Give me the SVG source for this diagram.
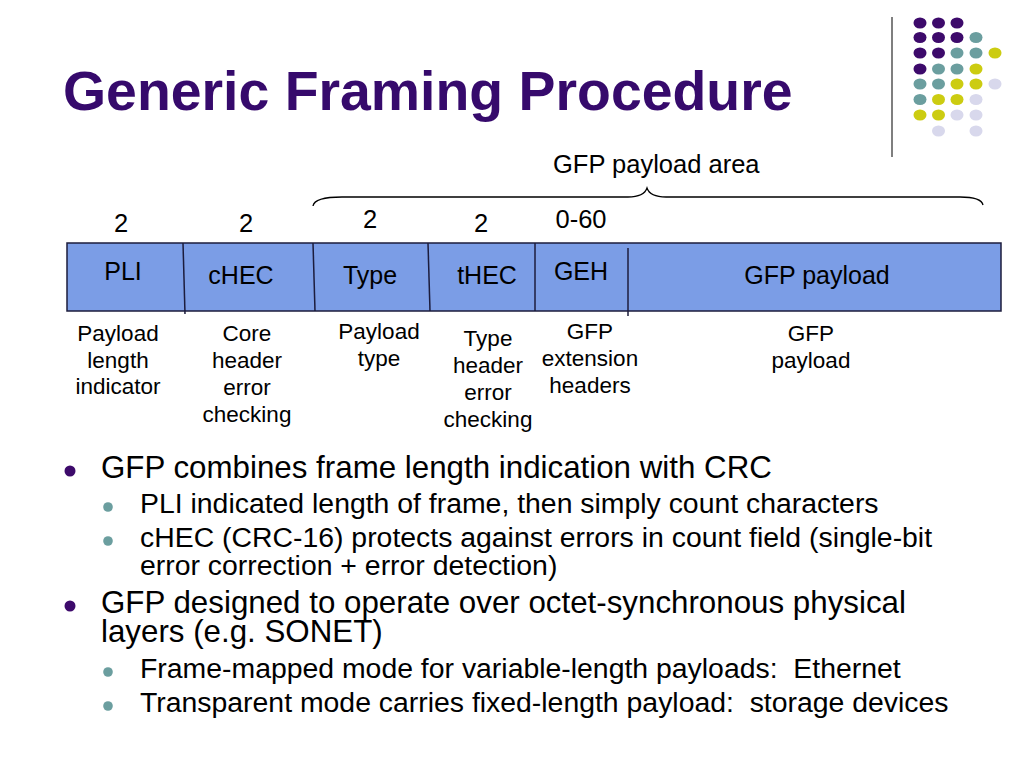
<svg xmlns="http://www.w3.org/2000/svg" width="1024" height="768" viewBox="0 0 1024 768">
<defs>
<style>
text{font-family:"Liberation Sans",Arial,sans-serif;fill:#000;white-space:pre}
.title{font-size:55.4px;font-weight:bold;fill:#360a6c}
.fld{font-size:25px;text-anchor:middle}
.num{font-size:25.5px;text-anchor:middle}
.desc{font-size:22.5px;text-anchor:middle}
.b1{font-size:31.3px}
.b2{font-size:28.4px}
.bar{fill:#7b9de6;stroke:#1c1c3c;stroke-width:1.5}
.div{stroke:#1c1c3c;stroke-width:1.5;fill:none}
.p{fill:#3d0a6b}.t{fill:#6b9e9f}.y{fill:#cccc11}.l{fill:#d8d8ec}
</style>
</defs>
<rect width="1024" height="768" fill="#fff"/>
<g id="decor">
<line x1="892" y1="17" x2="892" y2="157" stroke="#555" stroke-width="1.5"/>
<g>
<ellipse class="p" cx="920" cy="23" rx="6.5" ry="5.5"/><ellipse class="p" cx="938.5" cy="23" rx="6.5" ry="5.5"/><ellipse class="p" cx="957" cy="23" rx="6.5" ry="5.5"/>
<ellipse class="p" cx="920" cy="37.5" rx="6.5" ry="5.5"/><ellipse class="p" cx="938.5" cy="37.5" rx="6.5" ry="5.5"/><ellipse class="p" cx="957" cy="37.5" rx="6.5" ry="5.5"/><ellipse class="t" cx="976" cy="37.5" rx="6.5" ry="5.5"/>
<ellipse class="p" cx="920" cy="53" rx="6.5" ry="5.5"/><ellipse class="p" cx="938.5" cy="53" rx="6.5" ry="5.5"/><ellipse class="t" cx="957" cy="53" rx="6.5" ry="5.5"/><ellipse class="t" cx="976" cy="53" rx="6.5" ry="5.5"/><ellipse class="y" cx="995" cy="53" rx="6.5" ry="5.5"/>
<ellipse class="p" cx="920" cy="69" rx="6.5" ry="5.5"/><ellipse class="t" cx="938.5" cy="69" rx="6.5" ry="5.5"/><ellipse class="t" cx="957" cy="69" rx="6.5" ry="5.5"/><ellipse class="y" cx="976" cy="69" rx="6.5" ry="5.5"/>
<ellipse class="t" cx="920" cy="84" rx="6.5" ry="5.5"/><ellipse class="t" cx="938.5" cy="84" rx="6.5" ry="5.5"/><ellipse class="y" cx="957" cy="84" rx="6.5" ry="5.5"/><ellipse class="y" cx="976" cy="84" rx="6.5" ry="5.5"/><ellipse class="l" cx="995" cy="84" rx="6.5" ry="5.5"/>
<ellipse class="t" cx="920" cy="99.5" rx="6.5" ry="5.5"/><ellipse class="y" cx="938.5" cy="99.5" rx="6.5" ry="5.5"/><ellipse class="y" cx="957" cy="99.5" rx="6.5" ry="5.5"/><ellipse class="l" cx="976" cy="99.5" rx="6.5" ry="5.5"/>
<ellipse class="y" cx="920" cy="115" rx="6.5" ry="5.5"/><ellipse class="y" cx="938.5" cy="115" rx="6.5" ry="5.5"/><ellipse class="l" cx="957" cy="115" rx="6.5" ry="5.5"/><ellipse class="l" cx="976" cy="115" rx="6.5" ry="5.5"/>
<ellipse class="l" cx="938.5" cy="131" rx="6.5" ry="5.5"/><ellipse class="l" cx="976" cy="131" rx="6.5" ry="5.5"/>
</g>
</g>
<text class="title" x="63" y="110">Generic Framing Procedure</text>
<g id="payload-area">
<path d="M313,206 C314,200 322,197 342,197 L628,197 C640,197 645,194 647,188 C649,194 655,197 666,197 L960,197 C974,197 982,200 983,205" fill="none" stroke="#000" stroke-width="1.3"/>
<text x="553" y="173" style="font-size:25.5px">GFP payload area</text>
</g>
<g id="frame">
<rect class="bar" x="67" y="243" width="934" height="68"/>
</g>
<g id="connectors">
<line class="div" x1="183" y1="243" x2="185" y2="314"/>
<line class="div" x1="313" y1="243" x2="315" y2="311"/>
<line class="div" x1="428" y1="243" x2="430" y2="311"/>
<line class="div" x1="535" y1="243" x2="535" y2="311"/>
<line class="div" x1="628" y1="248" x2="628" y2="316"/>
</g>
<g id="pli">
<text class="num" x="121" y="232">2</text>
<text class="fld" x="123" y="280">PLI</text>
<text class="desc" x="118" y="341">Payload</text><text class="desc" x="118" y="368">length</text><text class="desc" x="118" y="394">indicator</text>
</g>
<g id="chec">
<text class="num" x="246" y="232">2</text>
<text class="fld" x="241" y="284">cHEC</text>
<text class="desc" x="247" y="341">Core</text><text class="desc" x="247" y="368">header</text><text class="desc" x="247" y="395">error</text><text class="desc" x="247" y="422">checking</text>
</g>
<g id="type">
<text class="num" x="370" y="228">2</text>
<text class="fld" x="370" y="284">Type</text>
<text class="desc" x="379" y="339">Payload</text><text class="desc" x="379" y="366">type</text>
</g>
<g id="thec">
<text class="num" x="481" y="232">2</text>
<text class="fld" x="487" y="284">tHEC</text>
<text class="desc" x="488" y="346">Type</text><text class="desc" x="488" y="373">header</text><text class="desc" x="488" y="400">error</text><text class="desc" x="488" y="427">checking</text>
</g>
<g id="geh">
<text class="num" x="581" y="228">0-60</text>
<text class="fld" x="581" y="280">GEH</text>
<text class="desc" x="590" y="339">GFP</text><text class="desc" x="590" y="366">extension</text><text class="desc" x="590" y="393">headers</text>
</g>
<g id="gfp-payload">
<text class="fld" x="817" y="284">GFP payload</text>
<text class="desc" x="811" y="341">GFP</text><text class="desc" x="811" y="368">payload</text>
</g>
<g id="bullets">
<circle class="p" cx="70" cy="471" r="5.5"/>
<text class="b1" x="101" y="478">GFP combines frame length indication with CRC</text>
<circle class="t" cx="108" cy="507" r="4.8"/>
<text class="b2" x="140" y="513">PLI indicated length of frame, then simply count characters</text>
<circle class="t" cx="108" cy="541" r="4.8"/>
<text class="b2" x="140" y="547">cHEC (CRC-16) protects against errors in count field (single-bit</text>
<text class="b2" x="140" y="575">error correction + error detection)</text>
<circle class="p" cx="70" cy="606" r="5.5"/>
<text class="b1" x="101" y="613">GFP designed to operate over octet-synchronous physical</text>
<text class="b1" x="101" y="642">layers (e.g. SONET)</text>
<circle class="t" cx="108" cy="672" r="4.8"/>
<text class="b2" x="140" y="678">Frame-mapped mode for variable-length payloads:  Ethernet</text>
<circle class="t" cx="108" cy="706" r="4.8"/>
<text class="b2" x="140" y="712">Transparent mode carries fixed-length payload:  storage devices</text>
</g>
</svg>
